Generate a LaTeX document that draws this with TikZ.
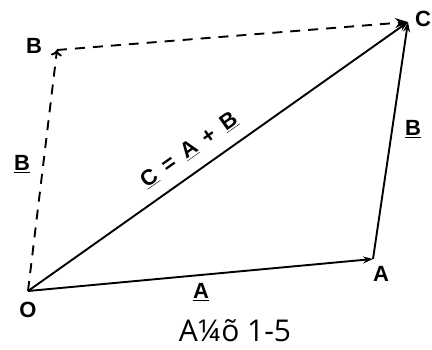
\documentclass[tikz,border=0pt]{standalone}
\usepackage{fontspec}
\setmainfont{Liberation Sans}
\newfontfamily\capfont{Open Sans}
\usepackage{tikz}
\usetikzlibrary{arrows.meta, calc, positioning}

\begin{document}
\begin{tikzpicture}[
        x=1pt, y=-1pt,
        every node/.style={font=\bfseries\fontsize{22}{22}\selectfont, inner sep=1pt},
        vec/.style={line width=1.9pt, -{Stealth[length=10pt, width=7pt]}},
        hilf/.style={line width=1.9pt, dash pattern=on 10pt off 8pt},
      ]
      \useasboundingbox (0,0) rectangle (432,349);

      % Punkte
      \coordinate (O) at (28,291);
      \coordinate (A) at (373,259);
      \coordinate (C) at (408,22);
      \coordinate (B) at (57,50);

      % A und B (durchgezogen)
      \draw[vec] (O) -- (A);
      \draw[vec] (A) -- (C);
      % Summe
      \draw[vec] (O) -- (C);

      % verschobene Vektoren (gestrichelt)
      \draw[hilf, -{To[length=6pt, width=11pt]}] (O) -- (B);
      \draw[hilf, -{Stealth[length=13pt, width=10pt]}] (B) -- (C);

      % Beschriftungen
      \node (labO) at (28,310) {O};
      \node (labA) at (381,274) {A};
      \node (labB) at (34,46) {B};
      \node (labC) at (423,19) {C};
      \node (vA) at (201,292) {\underline{A}};
      \node (vB) at (413,129) {\underline{B}};
      \node (vBd) at (22,164) {\underline{B}};
      \node[rotate=35.3] (vC) at (189,150)
        {\underline{C}\hspace{10pt}=\hspace{10pt}\underline{A}\hspace{10pt}+\hspace{10pt}\underline{B}};

      % Bildunterschrift
      \node[font=\capfont\fontsize{30}{30}\selectfont, anchor=base, inner sep=0pt] (cap) at (235,341) {A¼õ 1-5};
    \end{tikzpicture}
\end{document}
